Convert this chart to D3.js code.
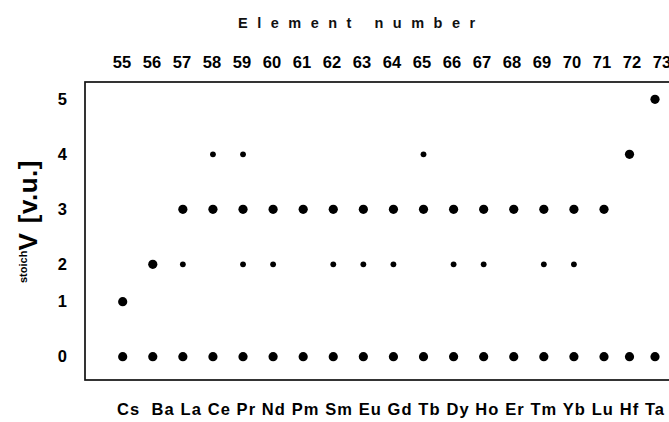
<!DOCTYPE html>
<html>
<head>
<meta charset="utf-8">
<script src="https://cdn.jsdelivr.net/npm/d3@7"></script>
<style>
  html, body { margin: 0; padding: 0; background: #fff; }
  svg { display: block; font-family: "Liberation Sans", Arial, sans-serif; font-weight: bold; }
</style>
</head>
<body>
<svg id="chart" width="669" height="422"></svg>
<script>
// Elements Cs..Ta with their stoichiometric valences
const elementNumbers = [55, 56, 57, 58, 59, 60, 61, 62, 63, 64, 65, 66, 67, 68, 69, 70, 71, 72, 73];
const symbols = ["Cs", "Ba", "La", "Ce", "Pr", "Nd", "Pm", "Sm", "Eu", "Gd", "Tb", "Dy", "Ho", "Er", "Tm", "Yb", "Lu", "Hf", "Ta"];
// main oxidation states (large dots)
const majorValences = [[0, 1], [0, 2], [0, 3], [0, 3], [0, 3], [0, 3], [0, 3], [0, 3], [0, 3], [0, 3],
                       [0, 3], [0, 3], [0, 3], [0, 3], [0, 3], [0, 3], [0, 3], [0, 4], [0, 5]];
// less common oxidation states (small dots)
const minorValences = [[], [], [2], [4], [2, 4], [2], [], [2], [2], [2],
                       [4], [2], [2], [], [2], [2], [], [], []];
const valenceTicks = [0, 1, 2, 3, 4, 5];

const svg = d3.select("#chart");

const frame = { left: 85, top: 82, bottom: 380, right: 700 };

// dot positions along the element row (last two columns set closer together)
const x = d3.scaleLinear().domain([55, 71, 73]).range([122.7, 604, 655]);
// column header positions
const xLabel = d3.scaleLinear().domain([55, 73]).range([121.5, 661.5]);
// valence axis (gap between 1 and 2 is narrower)
const y = d3.scaleLinear().domain([0, 1, 2, 5]).range([356.7, 301.7, 264.3, 99.3]);

// frame
svg.append("rect")
  .attr("x", frame.left).attr("y", frame.top)
  .attr("width", frame.right - frame.left).attr("height", frame.bottom - frame.top)
  .attr("fill", "none").attr("stroke", "#111").attr("stroke-width", 1.7);

// title
svg.append("text")
  .attr("x", 238).attr("y", 28)
  .attr("font-size", 14.5).attr("letter-spacing", 9.5)
  .attr("fill", "#111")
  .text("Element number");

// element numbers along the top
const topAxis = svg.append("g")
  .attr("transform", "translate(0,68)")
  .call(d3.axisTop(xLabel).tickValues(elementNumbers).tickSize(0).tickPadding(0).tickFormat(d3.format("d")));
topAxis.select(".domain").remove();
topAxis.selectAll("text").attr("font-size", 16.5).attr("font-family", null).attr("fill", "#000");

// valence tick labels
const leftAxis = svg.append("g")
  .attr("transform", `translate(${frame.left},0)`)
  .call(d3.axisLeft(y).tickValues(valenceTicks).tickSize(0).tickPadding(18).tickFormat(d3.format("d")));
leftAxis.select(".domain").remove();
leftAxis.selectAll("text").attr("font-size", 16.5).attr("font-family", null).attr("fill", "#000");

// y-axis title: stoich V [v.u.]
const yTitle = svg.append("text")
  .attr("transform", "translate(37,283) rotate(-90)")
  .attr("fill", "#000");
yTitle.append("tspan").attr("font-size", 11).attr("dy", -10).text("stoich");
yTitle.append("tspan").attr("font-size", 26).attr("dy", 10).text("V");
yTitle.append("tspan").attr("font-size", 26).attr("dx", 10).attr("letter-spacing", 0.5).text("[v.u.]");

// element symbols along the bottom
svg.append("text")
  .attr("x", 117).attr("y", 415)
  .attr("font-size", 16.5)
  .attr("textLength", 547).attr("lengthAdjust", "spacing")
  .attr("xml:space", "preserve")
  .attr("fill", "#000")
  .text(symbols[0] + "  " + symbols.slice(1).join(" "));

// dots
const major = elementNumbers.flatMap((n, i) => majorValences[i].map(v => ({ n, v })));
const minor = elementNumbers.flatMap((n, i) => minorValences[i].map(v => ({ n, v })));

svg.append("g").selectAll("circle").data(major).join("circle")
  .attr("cx", d => x(d.n)).attr("cy", d => y(d.v)).attr("r", 4.6).attr("fill", "#000");
svg.append("g").selectAll("circle").data(minor).join("circle")
  .attr("cx", d => x(d.n)).attr("cy", d => y(d.v)).attr("r", 2.9).attr("fill", "#000");
</script>
</body>
</html>
